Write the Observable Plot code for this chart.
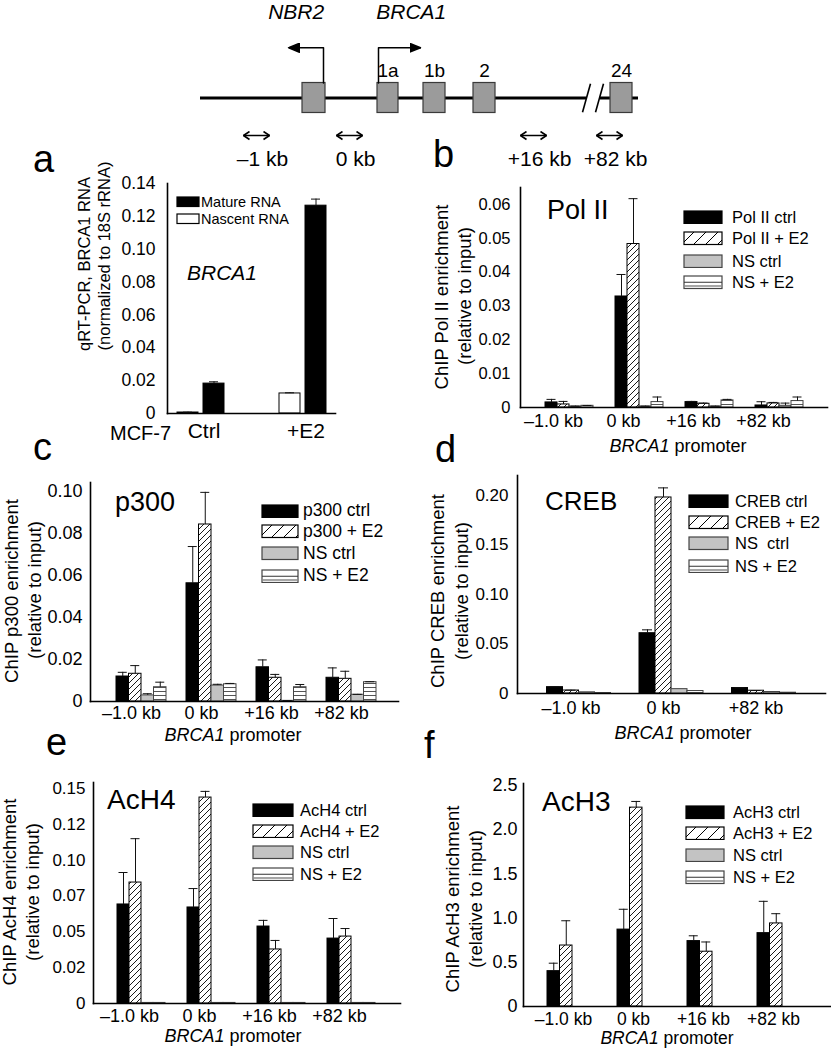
<!DOCTYPE html>
<html><head><meta charset="utf-8">
<script src="https://cdn.jsdelivr.net/npm/d3@7"></script>
<script src="https://cdn.jsdelivr.net/npm/@observablehq/plot@0.6"></script>
<style>
html,body{margin:0;padding:0;background:#fff;}
#fig{position:relative;width:831px;height:1050px;overflow:hidden;font-family:"Liberation Sans",Arial,Helvetica,sans-serif;color:#000;}
.abs{position:absolute;white-space:nowrap;line-height:1;}
</style></head><body><div id="fig"></div>
<script>
// ================= DATA =================
// gene diagram (schematic positions along the drawn locus)
const exonLabels = ["", "1a", "1b", "2", "24"];
const exonStart = [102, 177, 223, 273, 410];
const exonEnd = [125, 198, 245, 295, 432];
const locusStart = [0, 400];
const locusEnd = [386, 438];
const breakMarks = [386, 399];
const tssGenes = ["NBR2", "BRCA1"];
const tssPos = [123, 178];
const tssTip = [88, 220];
const ampliconLabels = ["\u20131 kb", "0 kb", "+16 kb", "+82 kb"];
const ampliconPos = [56, 149, 333, 409];

// panel a : qRT-PCR
const rnaGroups = ["Ctrl", "+E2"];
const rnaSeries = ["Nascent RNA", "Mature RNA"];
const rnaLegend = ["Mature RNA", "Nascent RNA"];
const nascentRNA = [0.0006, 0.0122];
const nascentRNAErr = [0.0008, 0.0126];
const matureRNA = [0.0182, 0.1265];
const matureRNAErr = [0.0193, 0.1305];
const aTicks = [0, 0.02, 0.04, 0.06, 0.08, 0.10, 0.12, 0.14];
const aTickLabels = ["0", "0.02", "0.04", "0.06", "0.08", "0.10", "0.12", "0.14"];

// ChIP panels
const sites4 = ["\u20131.0 kb", "0 kb", "+16 kb", "+82 kb"];
const sites3 = ["\u20131.0 kb", "0 kb", "+82 kb"];
const chipSeries = ["ctrl", "E2", "NSctrl", "NSE2"];

// b : Pol II
const polCtrl = [0.0015, 0.0328, 0.0016, 0.0006];
const polCtrlErr = [0.0024, 0.0393, 0.0018, 0.0017];
const polE2 = [0.0009, 0.0483, 0.0011, 0.0012];
const polE2Err = [0.0018, 0.0617, 0.0013, 0.0015];
const polNSctrl = [0.0003, 0.0003, 0.0003, 0.0005];
const polNSctrlErr = [0.0004, 0.0004, 0.0004, 0.0013];
const polNSE2 = [0.0005, 0.0016, 0.0021, 0.0019];
const polNSE2Err = [0.0006, 0.0031, 0.0024, 0.0031];
const bTicks = [0, 0.01, 0.02, 0.03, 0.04, 0.05, 0.06];
const bTickLabels = ["0", "0.01", "0.02", "0.03", "0.04", "0.05", "0.06"];
const bLegend = ["Pol II ctrl", "Pol II + E2", "NS ctrl", "NS + E2"];

// c : p300
const p300Ctrl = [0.0119, 0.0563, 0.0163, 0.0113];
const p300CtrlErr = [0.0139, 0.0738, 0.0198, 0.0160];
const p300E2 = [0.0132, 0.0843, 0.0113, 0.0108];
const p300E2Err = [0.0171, 0.0996, 0.0129, 0.0144];
const p300NSctrl = [0.0029, 0.0076, 0.0003, 0.0032];
const p300NSctrlErr = [0.0037, 0.0082, 0.0004, 0.0034];
const p300NSE2 = [0.0068, 0.0082, 0.0068, 0.0092];
const p300NSE2Err = [0.0092, 0.0086, 0.0081, 0.0094];
const cTicks = [0, 0.02, 0.04, 0.06, 0.08, 0.10];
const cTickLabels = ["0", "0.02", "0.04", "0.06", "0.08", "0.10"];
const cLegend = ["p300 ctrl", "p300 + E2", "NS ctrl", "NS + E2"];

// d : CREB
const crebCtrl = [0.0064, 0.0609, 0.0055];
const crebCtrlErr = [0.0068, 0.0643, 0.0058];
const crebE2 = [0.0030, 0.1980, 0.0028];
const crebE2Err = [0.0033, 0.2077, 0.0030];
const crebNSctrl = [0.0012, 0.0044, 0.0015];
const crebNSctrlErr = [0.0012, 0.0044, 0.0015];
const crebNSE2 = [0.0005, 0.0025, 0.0008];
const crebNSE2Err = [0.0005, 0.0025, 0.0008];
const dTicks = [0, 0.05, 0.10, 0.15, 0.20];
const dTickLabels = ["0", "0.05", "0.10", "0.15", "0.20"];
const dLegend = ["CREB ctrl", "CREB + E2", "NS\u00a0 ctrl", "NS + E2"];

// e : AcH4
const ach4Ctrl = [0.0691, 0.0670, 0.0537, 0.0453];
const ach4CtrlErr = [0.0914, 0.0802, 0.0580, 0.0593];
const ach4E2 = [0.0844, 0.1437, 0.0377, 0.0467];
const ach4E2Err = [0.1150, 0.1480, 0.0440, 0.0523];
const ach4NSctrl = [0.0004, 0.0004, 0.0004, 0.0004];
const ach4NSE2 = [0.0004, 0.0004, 0.0004, 0.0004];
const eTicks = [0, 0.025, 0.05, 0.075, 0.10, 0.125, 0.15];
const eTickLabels = ["0", "0.02", "0.05", "0.07", "0.10", "0.12", "0.15"];
const eLegend = ["AcH4 ctrl", "AcH4 + E2", "NS ctrl", "NS + E2"];

// f : AcH3
const ach3Ctrl = [0.40, 0.87, 0.74, 0.83];
const ach3CtrlErr = [0.49, 1.10, 0.80, 1.19];
const ach3E2 = [0.69, 2.25, 0.62, 0.94];
const ach3E2Err = [0.97, 2.32, 0.73, 1.05];
const ach3NSctrl = [0, 0, 0, 0];
const ach3NSE2 = [0, 0, 0, 0];
const fTicks = [0, 0.5, 1.0, 1.5, 2.0, 2.5];
const fTickLabels = ["0", "0.5", "1.0", "1.5", "2.0", "2.5"];
const fLegend = ["AcH3 ctrl", "AcH3 + E2", "NS ctrl", "NS + E2"];

// ================= STYLES / HELPERS =================
const FONT = '"Liberation Sans", Arial, Helvetica, sans-serif';
const F = document.getElementById("fig");
const NS = "http://www.w3.org/2000/svg";

// patterns
const defsSvg = d3.select(F).append("svg").attr("width", 0).attr("height", 0).style("position", "absolute").style("left", "0px").style("top", "0px");
const defs = defsSvg.append("defs");
function hatch(id, size, sw) {
  const p = defs.append("pattern").attr("id", id).attr("patternUnits", "userSpaceOnUse").attr("width", size).attr("height", size);
  p.append("rect").attr("width", size).attr("height", size).attr("fill", "#fff");
  p.append("path").attr("d", `M-1,1L1,-1M0,${size}L${size},0M${size - 1},${size + 1}L${size + 1},${size - 1}`).attr("stroke", "#000").attr("stroke-width", sw);
}
hatch("hatch", 6, 0.9);
hatch("hatchL", 12, 1);
const hs = defs.append("pattern").attr("id", "hstripe").attr("patternUnits", "userSpaceOnUse").attr("width", 4).attr("height", 4);
hs.append("rect").attr("width", 4).attr("height", 4).attr("fill", "#fff");
hs.append("rect").attr("y", 3).attr("width", 4).attr("height", 1).attr("fill", "#555");

const chipStyles = [
  {fill: "#000", stroke: "#000", kind: "solid"},
  {fill: "url(#hatch)", stroke: "#000", kind: "hatch"},
  {fill: "#c3c3c3", stroke: "#444", kind: "solid"},
  {fill: "url(#hstripe)", stroke: "#444", kind: "stripe"}
];
const rnaStyles = [
  {fill: "#fff", stroke: "#000", kind: "solid"},
  {fill: "#000", stroke: "#000", kind: "solid"}
];

function addText(x, baseline, html, {size = 18, anchor = "start", italic = false} = {}) {
  const d = document.createElement("div");
  d.className = "abs";
  d.style.left = x + "px";
  d.style.top = (baseline - 0.8465 * size) + "px";
  d.style.fontSize = size + "px";
  if (italic) d.style.fontStyle = "italic";
  if (anchor === "middle") d.style.transform = "translateX(-50%)";
  if (anchor === "end") d.style.transform = "translateX(-100%)";
  d.innerHTML = html;
  F.appendChild(d);
}
function addVText(cx, cy, html, size) {
  const d = document.createElement("div");
  d.className = "abs";
  d.style.left = cx + "px";
  d.style.top = cy + "px";
  d.style.fontSize = size + "px";
  d.style.transform = "translate(-50%,-50%) rotate(-90deg)";
  d.innerHTML = html;
  F.appendChild(d);
}
function legend(L) {
  L.labels.forEach((lab, i) => {
    const st = L.styles[i];
    const cy = L.rows[i];
    const s = d3.select(F).append("svg").attr("class", "abs")
      .style("left", (L.x - 1) + "px").style("top", (cy - L.h / 2 - 1) + "px")
      .attr("width", L.w + 2).attr("height", L.h + 2);
    const fill = st.kind === "hatch" ? "url(#hatchL)" : st.kind === "stripe" ? "#fff" : st.fill;
    s.append("rect").attr("x", 1).attr("y", 1).attr("width", L.w).attr("height", L.h).attr("fill", fill).attr("stroke", st.stroke).attr("stroke-width", 1.2);
    if (st.kind === "stripe") {
      s.append("line").attr("x1", 1).attr("x2", L.w + 1).attr("y1", 1 + L.h * 0.5).attr("y2", 1 + L.h * 0.5).attr("stroke", "#333").attr("stroke-width", 1);
      s.append("line").attr("x1", 1).attr("x2", L.w + 1).attr("y1", 1 + L.h * 0.8).attr("y2", 1 + L.h * 0.8).attr("stroke", "#888").attr("stroke-width", 1.5);
    }
    addText(L.textX, cy + 0.36 * L.size, lab, {size: L.size});
  });
}
function solidArrow(color) {
  const m = document.createElementNS(NS, "marker");
  m.setAttribute("viewBox", "-11 -5 11 10");
  m.setAttribute("markerWidth", 11);
  m.setAttribute("markerHeight", 10);
  m.setAttribute("markerUnits", "userSpaceOnUse");
  m.setAttribute("orient", "auto-start-reverse");
  const p = document.createElementNS(NS, "path");
  p.setAttribute("d", "M-11,-4.5L0,0L-11,4.5Z");
  p.setAttribute("fill", color);
  m.appendChild(p);
  return m;
}
function openArrow(color) {
  const m = document.createElementNS(NS, "marker");
  m.setAttribute("viewBox", "-8 -5 9 10");
  m.setAttribute("markerWidth", 9);
  m.setAttribute("markerHeight", 10);
  m.setAttribute("markerUnits", "userSpaceOnUse");
  m.setAttribute("orient", "auto-start-reverse");
  const p = document.createElementNS(NS, "path");
  p.setAttribute("d", "M-6,-4L0,0L-6,4");
  p.setAttribute("fill", "none");
  p.setAttribute("stroke", color);
  p.setAttribute("stroke-width", 1.6);
  m.appendChild(p);
  return m;
}
function place(svg, left, top) {
  svg.style.position = "absolute";
  svg.style.left = left + "px";
  svg.style.top = top + "px";
  F.appendChild(svg);
}

// ================= BAR PANEL =================
// x: band scale over promoter sites (one band = one bar group); the series inside a group
// are laid side by side with insets.
function barPanel(p) {
  const fr = p.frame;
  const W = fr.right - fr.left, n = p.sites.length, K = p.series.length;
  const g = K * p.bw + (K - 1) * p.gap;
  const pi = 1 - g / p.step;
  const po = Math.max(0, (W / p.step - n + pi) / 2);
  const spare = W - p.step * (n - pi);
  const align = spare > 0 ? Math.min(1, Math.max(0, (p.c0 - g / 2) / spare)) : 0.5;
  const left = fr.left - 80, top = fr.top - 10;
  const width = fr.right + 6 - left, height = fr.zero + 42 - top;
  const marks = [];
  p.series.forEach((key, k) => {
    const rows = p.sites.map((site, i) => ({site, series: key, value: p.values[k][i], err: p.errs[k][i]}));
    const offL = k * (p.bw + p.gap), offR = g - offL - p.bw;
    const capIn = (p.bw - p.cap) / 2;
    const er = rows.filter(r => r.err > r.value);
    marks.push(Plot.barY(rows, {x: "site", y: "value", insetLeft: offL, insetRight: offR,
      fill: p.styles[k].fill, stroke: p.styles[k].stroke, strokeWidth: 1}));
    marks.push(Plot.ruleX(er, {x: "site", y1: "value", y2: "err", dx: offL + p.bw / 2 - g / 2, stroke: "#111", strokeWidth: 1}));
    marks.push(Plot.tickY(er, {x: "site", y: "err", insetLeft: offL + capIn, insetRight: offR + capIn, stroke: "#111", strokeWidth: 1}));
  });
  marks.push(Plot.frame({anchor: "left", stroke: "#000", strokeWidth: 1.6}));
  marks.push(Plot.frame({anchor: "bottom", stroke: "#000", strokeWidth: 1.6}));
  marks.push(Plot.axisY({ticks: p.ticks, tickFormat: d => p.tickLabels[p.ticks.indexOf(d)], tickSize: 0,
    tickPadding: p.tickPad, label: null, fontSize: p.tickFont}));
  marks.push(Plot.axisX({anchor: "bottom", tickSize: 0, tickPadding: p.catPad, dx: p.catDx, label: null, fontSize: p.catFont}));
  const svg = Plot.plot({
    width, height,
    marginLeft: fr.left - left, marginRight: left + width - fr.right,
    marginTop: fr.top - top, marginBottom: top + height - fr.zero,
    style: {fontFamily: FONT, fontSize: p.tickFont + "px", color: "#000", background: "transparent", overflow: "visible"},
    x: {domain: p.sites, paddingInner: pi, paddingOuter: po, align, round: false},
    y: {domain: [0, p.yMax]},
    marks
  });
  place(svg, left, top);
}

// ================= GENE DIAGRAM =================
const exons = exonStart.map((s, i) => ({start: s, end: exonEnd[i], label: exonLabels[i]}));
const locus = locusStart.map((s, i) => ({start: s, end: locusEnd[i]}));
const tss = tssGenes.map((gname, i) => ({gene: gname, pos: tssPos[i], tip: tssTip[i]}));
const tssPath = tss.flatMap(t => [{gene: t.gene, x: t.pos, y: 1}, {gene: t.gene, x: t.pos, y: 3.35}, {gene: t.gene, x: t.tip, y: 3.35}]);
const amps = ampliconLabels.map((l, i) => ({label: l, pos: ampliconPos[i]}));

const diagram = Plot.plot({
  width: 480, height: 180, marginLeft: 20, marginRight: 22, marginTop: 0, marginBottom: 0,
  x: {domain: [0, 438], axis: null}, y: {domain: [-5.5, 6.5], axis: null},
  style: {fontFamily: FONT, fontSize: "20px", color: "#000", background: "transparent", overflow: "visible"},
  marks: [
    Plot.ruleY(locus, {x1: "start", x2: "end", y: 0, stroke: "#000", strokeWidth: 3}),
    Plot.link(breakMarks, {x1: d => d - 4, x2: d => d + 4, y1: -0.95, y2: 0.95, stroke: "#000", strokeWidth: 1.6}),
    Plot.rect(exons, {x1: "start", x2: "end", y1: -1, y2: 1, fill: "#9b9b9b", stroke: "#3a3a3a", strokeWidth: 1.2}),
    Plot.line(tssPath, {x: "x", y: "y", z: "gene", stroke: "#000", strokeWidth: 1.5, markerEnd: solidArrow}),
    Plot.text(tss, {x: d => d.pos + (d.tip - d.pos) * 0.78, y: 5.3, text: "gene", fontStyle: "italic", fontSize: 21, lineAnchor: "bottom"}),
    Plot.text(exons.filter(d => d.label), {x: d => (d.start + d.end) / 2, y: 1.37, text: "label", fontSize: 19, lineAnchor: "bottom"}),
    Plot.link(amps, {x1: d => d.pos - 13, x2: d => d.pos + 13, y1: -2.5, y2: -2.5, stroke: "#000", strokeWidth: 1.5, markerStart: openArrow, markerEnd: openArrow}),
    Plot.text(amps, {x: "pos", dx: 6, y: -4.5, text: "label", fontSize: 21, lineAnchor: "bottom"})
  ]
});
place(diagram, 180, 0);

// ================= PANELS =================
// a
barPanel({
  sites: rnaGroups, series: rnaSeries,
  values: [nascentRNA, matureRNA], errs: [nascentRNAErr, matureRNAErr], styles: rnaStyles,
  frame: {left: 167, right: 335, top: 183, zero: 413}, yMax: 0.14,
  ticks: aTicks, tickLabels: aTickLabels, tickPad: 12, tickFont: 17.5,
  c0: 33.5, step: 102, bw: 21, gap: 5, cap: 9,
  catPad: 10, catDx: 3, catFont: 21
});
legend({x: 177, w: 22, h: 9.5, rows: [202, 219], textX: 201, size: 14.5, labels: rnaLegend, styles: [rnaStyles[1], rnaStyles[0]]});
addText(187, 280, "BRCA1", {size: 21, italic: true});
addText(110, 440, "MCF-7", {size: 20});
addVText(84, 264, "qRT-PCR, BRCA1 RNA", 16.5);
addVText(104, 256, "(normalized to 18S rRNA)", 16.5);

// b
barPanel({
  sites: sites4, series: chipSeries,
  values: [polCtrl, polE2, polNSctrl, polNSE2], errs: [polCtrlErr, polE2Err, polNSctrlErr, polNSE2Err], styles: chipStyles,
  frame: {left: 520, right: 827, top: 187, zero: 407}, yMax: 0.065,
  ticks: bTicks, tickLabels: bTickLabels, tickPad: 10, tickFont: 16.5,
  c0: 49, step: 70, bw: 12, gap: 0, cap: 9,
  catPad: 7, catDx: -16, catFont: 18
});
legend({x: 684, w: 38, h: 12.5, rows: [217, 238.5, 261, 282.5], textX: 732, size: 16.5, labels: bLegend, styles: chipStyles});
addText(547, 220, "Pol II", {size: 27});
addVText(442, 297, "ChIP Pol II enrichment", 18.5);
addVText(465, 296, "(relative to input)", 18.5);
addText(678, 452, "<i>BRCA1</i> promoter", {size: 18, anchor: "middle"});

// c
barPanel({
  sites: sites4, series: chipSeries,
  values: [p300Ctrl, p300E2, p300NSctrl, p300NSE2], errs: [p300CtrlErr, p300E2Err, p300NSctrlErr, p300NSE2Err], styles: chipStyles,
  frame: {left: 90, right: 398, top: 482, zero: 701}, yMax: 0.1043,
  ticks: cTicks, tickLabels: cTickLabels, tickPad: 8, tickFont: 18,
  c0: 51, step: 70, bw: 12.5, gap: 0, cap: 9,
  catPad: 5, catDx: -10, catFont: 18
});
legend({x: 262, w: 36, h: 12.5, rows: [511, 531.5, 553.5, 576], textX: 303, size: 17.5, labels: cLegend, styles: chipStyles});
addText(115, 512, "p300", {size: 27});
addVText(12, 591, "ChIP p300 enrichment", 18.5);
addVText(35, 590, "(relative to input)", 18.5);
addText(233, 741, "<i>BRCA1</i> promoter", {size: 18, anchor: "middle"});

// d
barPanel({
  sites: sites3, series: chipSeries,
  values: [crebCtrl, crebE2, crebNSctrl, crebNSE2], errs: [crebCtrlErr, crebE2Err, crebNSctrlErr, crebNSE2Err], styles: chipStyles,
  frame: {left: 517, right: 825, top: 475, zero: 693}, yMax: 0.2202,
  ticks: dTicks, tickLabels: dTickLabels, tickPad: 9, tickFont: 17,
  c0: 61.5, step: 92.5, bw: 16, gap: 0, cap: 10,
  catPad: 8, catDx: -8, catFont: 18
});
legend({x: 689, w: 39, h: 12.5, rows: [501, 522.5, 543.5, 566], textX: 735, size: 16.5, labels: dLegend, styles: chipStyles});
addText(545, 510, "CREB", {size: 26});
addVText(438, 591, "ChIP CREB enrichment", 18.5);
addVText(462, 591, "(relative to input)", 18.5);
addText(683, 739, "<i>BRCA1</i> promoter", {size: 18, anchor: "middle"});

// e
barPanel({
  sites: sites4, series: chipSeries,
  values: [ach4Ctrl, ach4E2, ach4NSctrl, ach4NSE2], errs: [ach4CtrlErr, ach4E2Err, ach4NSctrl, ach4NSE2], styles: chipStyles,
  frame: {left: 93, right: 400, top: 782, zero: 1003}, yMax: 0.1542,
  ticks: eTicks, tickLabels: eTickLabels, tickPad: 8, tickFont: 17,
  c0: 48, step: 70, bw: 12, gap: 0, cap: 9,
  catPad: 6, catDx: -12, catFont: 18
});
legend({x: 253, w: 40, h: 12.5, rows: [810, 831, 852.5, 874], textX: 300, size: 16.5, labels: eLegend, styles: chipStyles});
addText(107, 810, "AcH4", {size: 28});
addVText(10, 892, "ChIP AcH4 enrichment", 18.5);
addVText(33, 892, "(relative to input)", 18.5);
addText(233, 1042, "<i>BRCA1</i> promoter", {size: 18, anchor: "middle"});

// f
barPanel({
  sites: sites4, series: chipSeries,
  values: [ach3Ctrl, ach3E2, ach3NSctrl, ach3NSE2], errs: [ach3CtrlErr, ach3E2Err, ach3NSctrl, ach3NSE2], styles: chipStyles,
  frame: {left: 523, right: 830, top: 783, zero: 1006}, yMax: 2.523,
  ticks: fTicks, tickLabels: fTickLabels, tickPad: 6, tickFont: 18,
  c0: 49, step: 70, bw: 12.5, gap: 0, cap: 9,
  catPad: 6, catDx: -9, catFont: 17.5
});
legend({x: 686, w: 38, h: 12.5, rows: [812.5, 833, 855, 877.5], textX: 733, size: 16.5, labels: fLegend, styles: chipStyles});
addText(542, 812, "AcH3", {size: 28});
addVText(453, 899, "ChIP AcH3 enrichment", 18.5);
addVText(476, 899, "(relative to input)", 18.5);
addText(667, 1045, "<i>BRCA1</i> promoter", {size: 17.5, anchor: "middle"});

// panel letters
addText(33, 172, "a", {size: 38});
addText(433, 167, "b", {size: 38});
addText(33, 460, "c", {size: 38});
addText(435, 462, "d", {size: 38});
addText(46, 755, "e", {size: 38});
addText(424, 758, "f", {size: 38});
</script></body></html>
